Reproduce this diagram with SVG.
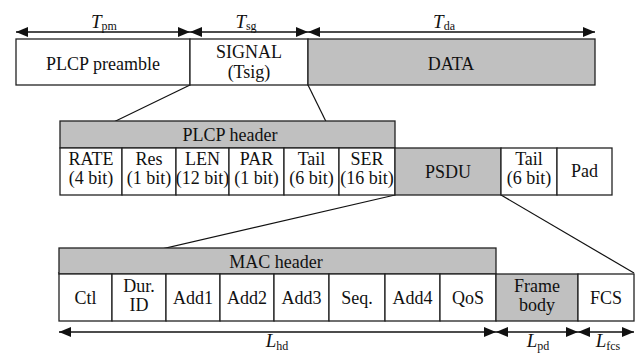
<svg xmlns="http://www.w3.org/2000/svg" width="636" height="354" viewBox="0 0 636 354">
<defs>
<style>
.b{fill:#fff;stroke:#222;stroke-width:1.3}
.g{fill:#c0c0c0;stroke:#222;stroke-width:1.3}
.t{font-family:"Liberation Serif","Times New Roman",serif;font-size:18px;fill:#111;text-anchor:middle}
.l{font-family:"Liberation Serif","Times New Roman",serif;font-size:19px;font-style:italic;fill:#111;text-anchor:middle}
.s{font-size:12px;font-style:normal}
.c{stroke:#111;stroke-width:1.2;fill:none}
.a{stroke:#111;stroke-width:1.5;fill:none;marker-start:url(#ah);marker-end:url(#ah)}
</style>
<marker id="ah" viewBox="0 0 12 10" refX="12" refY="5" markerWidth="12" markerHeight="10" markerUnits="userSpaceOnUse" orient="auto-start-reverse">
<path d="M0,0 L12,5 L0,10 Z" fill="#111"/>
</marker>
</defs>

<g id="connectors">
<line class="c" x1="190" y1="85" x2="60" y2="148"/>
<line class="c" x1="308" y1="85" x2="339" y2="148"/>
<line class="c" x1="395" y1="195" x2="58" y2="273"/>
<line class="c" x1="501" y1="195" x2="634" y2="273"/>
<line class="a" x1="16" y1="32" x2="190" y2="32"/>
<line class="a" x1="190" y1="32" x2="308" y2="32"/>
<line class="a" x1="308" y1="32" x2="595" y2="32"/>
<line class="a" x1="59" y1="332" x2="496" y2="332"/>
<line class="a" x1="496" y1="332" x2="578" y2="332"/>
<line class="a" x1="578" y1="332" x2="634" y2="332"/>
</g>

<g id="labels">
<text class="l" x="104" y="28">T<tspan class="s" dy="2">pm</tspan></text>
<text class="l" x="246" y="28">T<tspan class="s" dy="2">sg</tspan></text>
<text class="l" x="444" y="28">T<tspan class="s" dy="2">da</tspan></text>
<text class="l" x="277" y="347">L<tspan class="s" dy="3">hd</tspan></text>
<text class="l" x="538" y="347">L<tspan class="s" dy="3">pd</tspan></text>
<text class="l" x="608" y="347">L<tspan class="s" dy="3">fcs</tspan></text>
</g>

<g id="preamble"><rect class="b" x="16" y="39" width="174" height="46"/><text class="t" x="103" y="70">PLCP preamble</text></g>
<g id="signal"><rect class="b" x="190" y="39" width="118" height="46"/><text class="t" x="249" y="58">SIGNAL</text><text class="t" x="249" y="78">(Tsig)</text></g>
<g id="data"><rect class="g" x="308" y="39" width="287" height="46"/><text class="t" x="451" y="70">DATA</text></g>

<g id="plcp-header"><rect class="g" x="60" y="121" width="335" height="27"/><text class="t" x="230" y="141">PLCP header</text></g>
<g id="rate"><rect class="b" x="60" y="148" width="62" height="47"/><text class="t" x="91" y="165">RATE</text><text class="t" x="91" y="184">(4 bit)</text></g>
<g id="res"><rect class="b" x="122" y="148" width="54" height="47"/><text class="t" x="149" y="165">Res</text><text class="t" x="149" y="184">(1 bit)</text></g>
<g id="len"><rect class="b" x="176" y="148" width="53" height="47"/><text class="t" x="202.5" y="165">LEN</text><text class="t" x="202.5" y="184">(12 bit)</text></g>
<g id="par"><rect class="b" x="229" y="148" width="55" height="47"/><text class="t" x="256.5" y="165">PAR</text><text class="t" x="256.5" y="184">(1 bit)</text></g>
<g id="tail1"><rect class="b" x="284" y="148" width="55" height="47"/><text class="t" x="311.5" y="165">Tail</text><text class="t" x="311.5" y="184">(6 bit)</text></g>
<g id="ser"><rect class="b" x="339" y="148" width="56" height="47"/><text class="t" x="367" y="165">SER</text><text class="t" x="367" y="184">(16 bit)</text></g>
<g id="psdu"><rect class="g" x="395" y="148" width="106" height="47"/><text class="t" x="448" y="178">PSDU</text></g>
<g id="tail2"><rect class="b" x="501" y="148" width="56" height="47"/><text class="t" x="529" y="165">Tail</text><text class="t" x="529" y="184">(6 bit)</text></g>
<g id="pad"><rect class="b" x="557" y="148" width="55" height="47"/><text class="t" x="584.5" y="177">Pad</text></g>

<g id="mac-header"><rect class="g" x="59" y="248" width="437" height="26"/><text class="t" x="276" y="268">MAC header</text></g>
<g id="ctl"><rect class="b" x="59" y="274" width="53" height="47"/><text class="t" x="85.5" y="304">Ctl</text></g>
<g id="dur"><rect class="b" x="112" y="274" width="54" height="47"/><text class="t" x="139" y="292">Dur.</text><text class="t" x="139" y="311">ID</text></g>
<g id="add1"><rect class="b" x="166" y="274" width="54" height="47"/><text class="t" x="193" y="304">Add1</text></g>
<g id="add2"><rect class="b" x="220" y="274" width="54" height="47"/><text class="t" x="247" y="304">Add2</text></g>
<g id="add3"><rect class="b" x="274" y="274" width="55" height="47"/><text class="t" x="301.5" y="304">Add3</text></g>
<g id="seq"><rect class="b" x="329" y="274" width="56" height="47"/><text class="t" x="357" y="304">Seq.</text></g>
<g id="add4"><rect class="b" x="385" y="274" width="55" height="47"/><text class="t" x="412.5" y="304">Add4</text></g>
<g id="qos"><rect class="b" x="440" y="274" width="56" height="47"/><text class="t" x="468" y="304">QoS</text></g>
<g id="frame-body"><rect class="g" x="496" y="274" width="82" height="47"/><text class="t" x="537" y="292">Frame</text><text class="t" x="537" y="311">body</text></g>
<g id="fcs"><rect class="b" x="578" y="274" width="56" height="47"/><text class="t" x="606" y="304">FCS</text></g>
</svg>
